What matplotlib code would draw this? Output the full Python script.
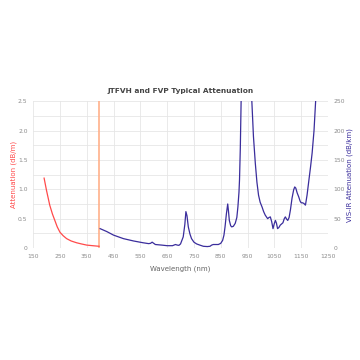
import matplotlib.pyplot as plt
import numpy as np

# UV側 (dB/m)
uv_nm = [191, 200, 212, 222, 231, 240, 250, 262, 275, 292, 312, 330, 350, 372, 396]
uv_att = [1.19, 0.98, 0.73, 0.58, 0.47, 0.36, 0.27, 0.21, 0.16, 0.12, 0.09, 0.07, 0.05, 0.04, 0.03]

# VIS-IR側 (dB/km)
ir_nm = [400, 425, 450, 487, 525, 560, 581, 588, 594, 600, 606, 630, 650, 670, 681, 688, 694,
         700, 710, 716, 720, 724, 729, 735, 741, 750, 760, 772, 785, 800, 810, 816, 822, 832, 841,
         850, 857, 862, 866, 871, 876, 879, 882, 887, 891, 897, 904, 910, 914, 918, 920, 923, 926, 929,
         962, 966, 972, 979, 985, 991, 997, 1004, 1010, 1016, 1025, 1030, 1035, 1040, 1045, 1050, 1054,
         1058, 1062, 1067, 1072, 1077, 1082, 1087, 1091, 1096, 1100, 1105, 1110, 1116, 1122, 1126, 1130,
         1135, 1141, 1146, 1150, 1155, 1160, 1166, 1172, 1179, 1185, 1191, 1198, 1204, 1207]
ir_att = [33, 28, 22, 16, 12, 9, 7.5, 8, 10, 8, 6, 5, 4, 4, 6, 5, 4.6,
          7, 19, 40, 62, 55, 36, 24, 16, 10, 7, 5, 3, 2.5, 3, 5, 6, 6, 6,
          8, 13, 22, 36, 58, 75, 62, 47, 38, 36, 37, 42, 52, 70, 95, 116, 170, 250, 270,
          270, 250, 190, 144, 112, 90, 78, 70, 62, 56, 50, 52, 53, 45, 33, 42, 47,
          42, 33, 35, 39, 41, 43, 50, 53, 49, 47, 52, 65, 85, 99, 104, 102,
          94, 87, 80, 77, 77, 76, 73, 90, 116, 138, 162, 200, 250, 270]

x_ticks = [150, 250, 350, 450, 550, 650, 750, 850, 950, 1050, 1150, 1250]
left_ticks = [0, 0.5, 1.0, 1.5, 2.0, 2.5]
left_labels = ['0', '0.5', '1.0', '1.5', '2.0', '2.5']
right_ticks = [0, 50, 100, 150, 200, 250]

red = '#ff4a4a'
blue = '#3a2d9c'
gray = '#8a8a8a'

fig = plt.figure(figsize=(3.6, 3.6), dpi=100)
ax = fig.add_axes([0.092, 0.311, 0.819, 0.408])
ax2 = ax.twinx()

# グリッド
ax.set_xlim(150, 1250)
ax.set_ylim(0, 2.5)
ax2.set_ylim(0, 250)
ax.set_xticks(x_ticks)
ax.set_yticks(left_ticks)
ax.set_yticklabels(left_labels)
ax.set_yticks(np.arange(0.25, 2.5, 0.5), minor=True)
ax.grid(True, which='both', color='#e6e6e6', linewidth=0.6)
ax.set_axisbelow(True)
ax2.set_yticks(right_ticks)

ax.axvline(397, color='#ffb08a', linewidth=1.2, zorder=3)
ax.plot(uv_nm, uv_att, color=red, linewidth=0.9, zorder=4)
ax2.plot(ir_nm, ir_att, color=blue, linewidth=0.9, zorder=4)

for a in (ax, ax2):
    for s in a.spines.values():
        s.set_visible(False)
    a.tick_params(which='both', length=0, labelsize=4.3, labelcolor=gray, pad=4)

ax.set_title('JTFVH and FVP Typical Attenuation', fontsize=5.3, fontweight='bold',
             color='#444444', pad=6)
ax.set_xlabel('Wavelength (nm)', fontsize=5, color='#666666', labelpad=5)
ax.set_ylabel('Attenuation (dB/m)', fontsize=5, color=red, labelpad=1)
ax2.set_ylabel('VIS-IR Attenuation (dB/km)', fontsize=5, color=blue, labelpad=1,
               rotation=90, va='top')

fig.savefig('out.png', dpi=100, facecolor='white')
